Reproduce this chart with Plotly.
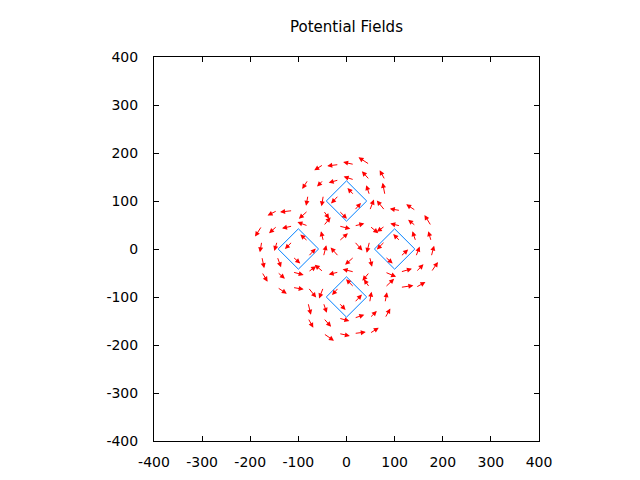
import plotly.graph_objects as go

# obstacles: square blocks turned 45 degrees
obstacle_x = [0, -100, 100, 0]
obstacle_y = [100, 0, 0, -100]
obstacle_r = 42  # centre to corner

# vector field: arrow tail (x, y) and components (dx, dy)
arrow_x = [
    # around top block
    -48, -16, 16, 48, -80, -48, -16, 16, 48, 80, -80, -48, -16, 16, 48, 80, -48, -16, 16, 48,
    # around right block
    176, 176, 176, 176, 144, 144, 144, 144, 144, 144, 112, 112, 112, 112, 112, 112, 80, 80, 80, 80,
    # around left block
    -176, -176, -176, -176, -144, -144, -144, -144, -144, -144, -112, -112, -112, -112, -112, -112, -80, -80, -80, -80,
    # around bottom block
    48, 16, -16, -48, 80, 48, 16, -16, -48, -80, 80, 48, 16, -16, -48, -80, 48, 16, -16, -48,
    # corners
    80, 80, -80, -80,
    # middle
    16, 16, -16, -16, 16, -48, -16, 48, -16, -48, 16, 48, -48, -48, 48, 48,
]
arrow_y = [
    176, 176, 176, 176, 144, 144, 144, 144, 144, 144, 112, 112, 112, 112, 112, 112, 80, 80, 80, 80,
    48, 16, -16, -48, 80, 48, 16, -16, -48, -80, 80, 48, 16, -16, -48, -80, 48, 16, -16, -48,
    -48, -16, 16, 48, -80, -48, -16, 16, 48, 80, -80, -48, -16, 16, 48, 80, -48, -16, 16, 48,
    -176, -176, -176, -176, -144, -144, -144, -144, -144, -144, -112, -112, -112, -112, -112, -112, -80, -80, -80, -80,
    80, -80, -80, 80,
    16, -16, -16, 16, 48, 16, -48, -16, 48, -16, -48, 16, 48, -48, -48, 48,
]
arrow_dx = [
    -19, -24, -23, -23, -12, -13, -21, -22, -16, -11, -4, -4, -16, -14, -7, -5, 12, 17, 14, 9,
    -14, -6, 6, 14, -20, -16, -7, 8, 16, 20, -22, -21, -15, 16, 24, 27, -17, -17, 16, 23,
    12, 5, -4, -14, 20, 16, 8, -6, -17, -20, 23, 23, 16, -16, -22, -26, 17, 16, -16, -22,
    19, 24, 23, 22, 11, 15, 21, 22, 16, 11, 4, 4, 16, 14, 7, 6, -12, -17, -14, -9,
    -17, 19, 17, -19,
    17, -19, -17, 19, 21, -5, -21, 5, 24, 6, -24, -6, 15, -18, -15, 18,
]
arrow_dy = [
    -12, -3, 5, 15, -19, -14, -6, 7, 18, 20, -22, -23, -17, 15, 21, 26, -17, -17, 16, 23,
    23, 21, 23, 21, 13, 13, 21, 21, 16, 11, 4, 5, 15, 15, 7, 4, -12, -17, -14, -10,
    -20, -24, -23, -22, -13, -14, -22, -20, -15, -10, -4, -6, -14, -16, -5, -3, 12, 17, 14, 8,
    12, 3, -5, -15, 20, 15, 7, -6, -18, -20, 22, 23, 17, -15, -21, -25, 17, 17, -16, -23,
    21, 18, -21, -17,
    -19, -17, 19, 17, 5, 21, -5, -21, -6, 24, 6, -24, 18, 15, -18, -15,
]

tick_vals = [-400, -300, -200, -100, 0, 100, 200, 300, 400]
tick_text = ["-400", "-300", "-200", "-100", "0", "100", "200", "300", "400"]

fig = go.Figure()

# blocks outlined in blue
for cx, cy in zip(obstacle_x, obstacle_y):
    fig.add_trace(go.Scatter(
        x=[cx, cx + obstacle_r, cx, cx - obstacle_r, cx],
        y=[cy + obstacle_r, cy, cy - obstacle_r, cy, cy + obstacle_r],
        mode="lines", line=dict(color="#0080ff", width=1),
        showlegend=False, hoverinfo="skip"))

# red arrows, tail -> head
arrows = []
for x0, y0, dx, dy in zip(arrow_x, arrow_y, arrow_dx, arrow_dy):
    arrows.append(dict(
        x=x0 + dx, y=y0 + dy, ax=x0, ay=y0,
        xref="x", yref="y", axref="x", ayref="y",
        text="", showarrow=True,
        arrowhead=2, arrowsize=1, arrowwidth=1,
        arrowcolor="#ff0000", standoff=0, startstandoff=0))

axis_style = dict(
    range=[-400, 400], tickvals=tick_vals, ticktext=tick_text,
    ticks="inside", ticklen=5, tickcolor="black",
    showline=True, linecolor="black", linewidth=1, mirror="ticks",
    showgrid=False, zeroline=False,
    tickfont=dict(family="DejaVu Sans", size=14, color="black"))

# the page body adds an 8px offset, so margins are shifted to compensate
fig.update_layout(
    width=640, height=480, autosize=False,
    margin=dict(l=146, r=109, t=49, b=47),
    plot_bgcolor="white", paper_bgcolor="white",
    title=dict(text="Potential Fields", x=0.5, xref="paper", xanchor="center",
               y=1 - 19 / 480, yref="container", yanchor="middle",
               font=dict(family="DejaVu Sans", size=15, color="black")),
    xaxis=dict(axis_style, ticklabelstandoff=8),
    yaxis=dict(axis_style, ticklabelstandoff=12),
    annotations=arrows,
)

fig.write_html("out.html", config={"displayModeBar": False})
